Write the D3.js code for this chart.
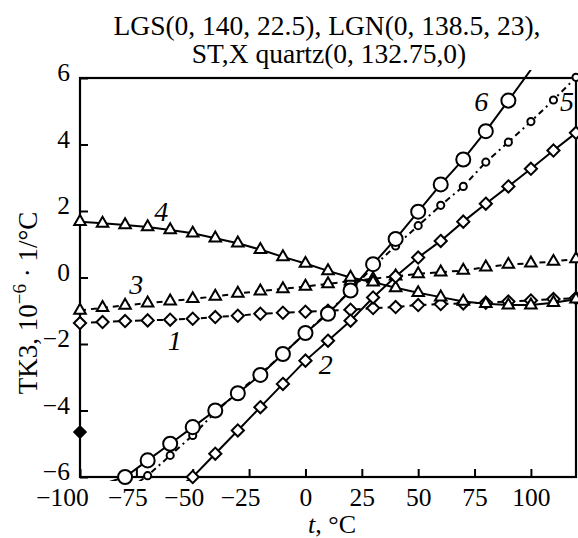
<!DOCTYPE html>
<html>
<head>
<meta charset="utf-8">
<script src="https://cdn.jsdelivr.net/npm/d3@7"></script>
<style>
  body { margin: 0; background: #fff; }
  text { font-family: "Liberation Serif", serif; fill: #000; }
</style>
</head>
<body>
<div id="vis"></div>
<script>
// temperatures, every 10 °C
const T_ALL = [-100, -90, -80, -70, -60, -50, -40, -30, -20, -10, 0, 10, 20, 30, 40, 50, 60, 70, 80, 90, 100, 110, 120];

// curve 1: diamonds, dashed
const s1 = [-1.37, -1.34, -1.31, -1.29, -1.27, -1.24, -1.19, -1.15, -1.09, -1.06, -1.03, -1.0, -0.97, -0.92, -0.89, -0.83, -0.80, -0.78, -0.76, -0.72, -0.69, -0.65, -0.62];
// curve 3: triangles, dashed
const s3 = [-0.99, -0.91, -0.84, -0.77, -0.71, -0.64, -0.57, -0.48, -0.41, -0.34, -0.27, -0.19, -0.11, -0.04, 0.04, 0.11, 0.16, 0.21, 0.31, 0.39, 0.43, 0.48, 0.56];
// curve 4: triangles, solid
const s4 = [1.68, 1.63, 1.58, 1.52, 1.43, 1.33, 1.18, 1.03, 0.84, 0.62, 0.42, 0.2, 0.0, -0.14, -0.31, -0.46, -0.59, -0.72, -0.79, -0.83, -0.83, -0.76, -0.65];

// curve 2: diamonds, solid, -50..120
const T2 = [-50, -40, -30, -20, -10, 0, 10, 20, 30, 40, 50, 60, 70, 80, 90, 100, 110, 120];
const s2 = [-6.0, -5.3, -4.6, -3.9, -3.2, -2.5, -1.9, -1.3, -0.6, 0.03, 0.6, 1.1, 1.68, 2.22, 2.74, 3.27, 3.82, 4.35];

// curve 6: big circles, solid, -80..90
const T6 = [-80, -70, -60, -50, -40, -30, -20, -10, 0, 10, 20, 30, 40, 50, 60, 70, 80, 90];
const s6 = [-6.0, -5.5, -5.0, -4.5, -4.0, -3.48, -2.93, -2.3, -1.67, -1.09, -0.39, 0.4, 1.16, 1.98, 2.8, 3.55, 4.4, 5.32];

// curve 5: small circles, dash-dot, -70..120
const T5 = [-70, -60, -50, -40, -30, -20, -10, 0, 10, 20, 30, 40, 50, 60, 70, 80, 90, 100, 110, 120];
const s5 = [-5.96, -5.35, -4.75, -4.05, -3.45, -2.9, -2.3, -1.67, -1.05, -0.4, 0.32, 0.95, 1.56, 2.17, 2.74, 3.47, 4.07, 4.69, 5.34, 6.02];

// line ends drawn past the last markers
const ext2 = [[-53, -6.15]];
const ext6 = [[-87, -6.15], [100, 6.25]];
const ext5 = [[-74, -6.15]];

// single filled point at -100
const solo = [[-100, -4.65]];

const xTicks = [-100, -75, -50, -25, 0, 25, 50, 75, 100];
const yTicks = [-6, -4, -2, 0, 2, 4, 6];

const curveLabels = [
  { text: "1", t: -58, v: -1.9 },
  { text: "2", t: 9, v: -2.6 },
  { text: "3", t: -75, v: -0.2 },
  { text: "4", t: -64, v: 2.0 },
  { text: "5", t: 116, v: 5.3 },
  { text: "6", t: 78, v: 5.3 }
];

const W = 578, H = 538;
const L = 80, R = 576, TOP = 78, BOT = 477;

const x = d3.scaleLinear().domain([-100, 120]).range([L, R]);
const y = d3.scaleLinear().domain([-6, 6]).range([BOT, TOP]);

const svg = d3.select("#vis").append("svg")
  .attr("width", W).attr("height", H);

// title
svg.append("text").attr("x", 327).attr("y", 35).attr("text-anchor", "middle")
  .style("font-size", "27.5px").text("LGS(0, 140, 22.5), LGN(0, 138.5, 23),");
svg.append("text").attr("x", 329).attr("y", 63).attr("text-anchor", "middle")
  .style("font-size", "27.5px").text("ST,X quartz(0, 132.75,0)");

const minus = d => d < 0 ? "\u2212" + Math.abs(d) : d;

// axes
const xAxis = d3.axisBottom(x).tickValues(xTicks).tickSize(-8).tickPadding(11).tickFormat(minus);
const yAxis = d3.axisLeft(y).tickValues(yTicks).tickSize(-8).tickPadding(10).tickFormat(minus);

const gx = svg.append("g").attr("transform", `translate(0,${BOT})`).call(xAxis);
const gy = svg.append("g").attr("transform", `translate(${L},0)`).call(yAxis);
[gx, gy].forEach(g => {
  g.select(".domain").remove();
  g.selectAll("line").attr("stroke", "#000").attr("stroke-width", 2);
  g.selectAll("text").style("font-size", "25.5px").style("font-family", "Liberation Serif");
});
gy.selectAll("text").attr("dy", "0.1em");
gx.selectAll("text").attr("dx", d => d === -100 ? -18 : (d < 0 ? -9 : 0));

// frame
svg.append("rect").attr("x", L).attr("y", TOP).attr("width", R - L).attr("height", BOT - TOP)
  .attr("fill", "none").attr("stroke", "#000").attr("stroke-width", 2.2);

// axis labels
const yl = svg.append("text").attr("transform", `translate(37,303) rotate(-90)`)
  .attr("text-anchor", "middle").style("font-size", "27px");
yl.append("tspan").text("TK3,  10");
yl.append("tspan").attr("dy", -11).style("font-size", "19px").text("\u22126");
yl.append("tspan").attr("dy", 11).text(" \u00b7 1/\u00b0C");

const xl = svg.append("text").attr("x", 308).attr("y", 533).attr("text-anchor", "start")
  .style("font-size", "26px");
xl.append("tspan").style("font-style", "italic").text("t");
xl.append("tspan").text(",  \u00b0C");

// clip lines a little outside the frame
svg.append("clipPath").attr("id", "clip").append("rect")
  .attr("x", L).attr("y", TOP - 8).attr("width", R - L).attr("height", BOT - TOP + 12);

const line = d3.line().x(d => x(d[0])).y(d => y(d[1]));
const zip = (ts, vs) => ts.map((t, i) => [t, vs[i]]);

const series = [
  { pts: zip(T_ALL, s1), dash: "6,5", mark: "diamond" },
  { pts: zip(T_ALL, s3), dash: "6,5", mark: "triangle" },
  { pts: zip(T_ALL, s4), dash: null, mark: "triangle" },
  { pts: zip(T2, s2), ext: ext2, dash: null, mark: "diamond" },
  { pts: zip(T5, s5), ext: ext5, dash: "6,4,2,4", mark: "small" },
  { pts: zip(T6, s6), ext: ext6, dash: null, mark: "big" }
];

const lines = svg.append("g").attr("clip-path", "url(#clip)");
series.forEach(s => {
  let path = s.pts.slice();
  if (s.ext) {
    s.ext.forEach(e => { if (e[0] < path[0][0]) path.unshift(e); else path.push(e); });
  }
  lines.append("path").datum(path).attr("d", line)
    .attr("fill", "none").attr("stroke", "#000").attr("stroke-width", 2)
    .attr("stroke-dasharray", s.dash);
});

const symbols = {
  diamond: d3.symbol().type(d3.symbolDiamond2).size(95),
  triangle: d3.symbol().type(d3.symbolTriangle2).size(95),
  small: d3.symbol().type(d3.symbolCircle).size(40),
  big: d3.symbol().type(d3.symbolCircle).size(155)
};

const marks = svg.append("g");
series.forEach(s => {
  marks.append("g").selectAll("path").data(s.pts).join("path")
    .attr("transform", d => `translate(${x(d[0])},${y(d[1])})`)
    .attr("d", symbols[s.mark])
    .attr("fill", "#fff").attr("stroke", "#000").attr("stroke-width", 2);
});

marks.selectAll(".solo").data(solo).join("path").attr("class", "solo")
  .attr("transform", d => `translate(${x(d[0])},${y(d[1])})`)
  .attr("d", symbols.diamond).attr("fill", "#000").attr("stroke", "#000").attr("stroke-width", 1.5);

// curve numbers
svg.append("g").selectAll("text").data(curveLabels).join("text")
  .attr("x", d => x(d.t)).attr("y", d => y(d.v)).attr("text-anchor", "middle")
  .attr("dy", "0.35em").style("font-style", "italic").style("font-size", "28px")
  .text(d => d.text);
</script>
</body>
</html>
